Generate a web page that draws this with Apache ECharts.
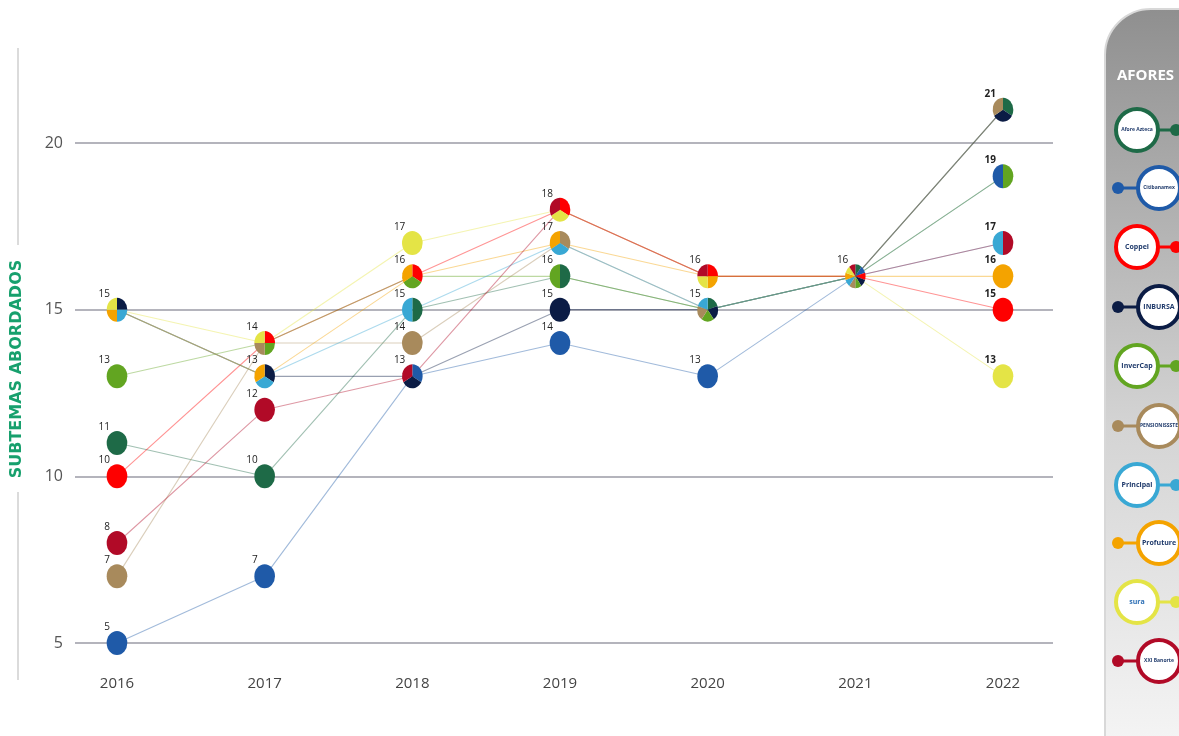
<!DOCTYPE html>
<html>
<head>
<meta charset="utf-8">
<script src="https://cdn.jsdelivr.net/npm/echarts@6/dist/echarts.min.js"></script>
<style>
html,body{margin:0;padding:0;background:#fff;}
#chart{width:1179px;height:736px;}
</style>
</head>
<body>
<div id="chart"></div>
<script>
const years = ['2016','2017','2018','2019','2020','2021','2022'];
const afores = ['Afore Azteca','Citibanamex','Coppel','Inbursa','Invercap','PensionISSSTE','Principal','Profuture','SURA','XXI Banorte'];
const aforeColors = ['#1e6a47','#1f5aa8','#fe0000','#0b1c45','#62a521','#a88a5c','#39a8d4','#f4a300','#e4e446','#b10a27'];
const logoText = ['Afore Azteca','Citibanamex','Coppel','INBURSA','InverCap','PENSIONISSSTE','Principal','Profuture','sura','XXI Banorte'];

const azteca        = [11, 10, 15, 16, 15, 16, 21];
const citibanamex   = [ 5,  7, 13, 14, 13, 16, 19];
const coppel        = [10, 14, 16, 18, 16, 16, 15];
const inbursa       = [15, 13, 13, 15, 15, 16, 21];
const invercap      = [13, 14, 16, 16, 15, 16, 19];
const pensionissste = [ 7, 14, 14, 17, 15, 16, 21];
const principal     = [15, 13, 15, 17, 15, 16, 17];
const profuture     = [15, 13, 16, 17, 16, 16, 16];
const sura          = [15, 14, 17, 18, 16, 16, 13];
const xxiBanorte    = [ 8, 12, 13, 18, 16, 16, 17];

const yTicks = [5, 10, 15, 20];

const seriesValues = [azteca, citibanamex, coppel, inbursa, invercap, pensionissste, principal, profuture, sura, xxiBanorte];

// group afores sharing the same value in the same year into one pie node
const nodeMap = {};
const nodes = [];
years.forEach((y, i) => {
  seriesValues.forEach((vals, a) => {
    const key = i + '_' + vals[i];
    if (!nodeMap[key]) { nodeMap[key] = {x: i, y: vals[i], members: []}; nodes.push(nodeMap[key]); }
    nodeMap[key].members.push(a);
  });
});

const R = 12;
function renderNode(params, api) {
  const nd = nodes[params.dataIndex];
  const c = api.coord([nd.x, nd.y]);
  const n = nd.members.length;
  const last = nd.x === years.length - 1;
  const start = (last && n === 2) ? Math.PI/2 : -Math.PI/2;
  const pies = nd.members.map((m, k) => {
    if (n === 1) return {type:'circle', shape:{cx:0, cy:0, r:R}, style:{fill: aforeColors[m]}};
    return {type:'sector', shape:{cx:0, cy:0, r0:0, r:R,
      startAngle: start + k*2*Math.PI/n, endAngle: start + (k+1)*2*Math.PI/n, clockwise:true},
      style:{fill: aforeColors[m]}};
  });
  return {type:'group', children:[
    {type:'group', x:c[0], y:c[1], scaleX:0.86, children: pies},
    {type:'text', x:c[0]-7, y:c[1]-16, style:{text:String(nd.y), align:'right', verticalAlign:'middle',
      fontSize:10, fontFamily:'Open Sans', fontWeight: last ? 'bold' : 'normal', fill:'#222'}}
  ]};
}

const lineSeries = afores.map((name, a) => ({
  name, type:'line', xAxisIndex:0, yAxisIndex:0, data: seriesValues[a],
  symbol:'none', clip:false, silent:true, z:2,
  lineStyle:{color: aforeColors[a], width:1.1, opacity:0.42}
}));

// legend panel graphics
const panelRows = [130, 188, 247, 307, 366, 426, 485, 543, 602, 661];
const panel = [];
panel.push({type:'rect', left:1104, top:8, shape:{x:0, y:0, width:120, height:760, r:[46,46,0,0]},
  style:{fill:{type:'linear', x:0, y:0, x2:0, y2:1, colorStops:[{offset:0,color:'#8f8f8f'},{offset:0.55,color:'#d4d4d4'},{offset:1,color:'#f7f7f7'}]},
  stroke:'#d8d8d8', lineWidth:2}, z:0});
panel.push({type:'text', left:1117, top:68, style:{text:'AFORES', fill:'#ffffff', fontSize:15, fontWeight:'bold', fontFamily:'Open Sans'}, z:1});
afores.forEach((name, a) => {
  const y = panelRows[a];
  const odd = a % 2 === 0;
  const ringX = odd ? 1137 : 1159;
  const dotX = odd ? 1176 : 1118;
  panel.push({type:'line', shape:{x1:ringX, y1:y, x2:dotX, y2:y}, style:{stroke:aforeColors[a], lineWidth:3}, z:1});
  panel.push({type:'circle', shape:{cx:dotX, cy:y, r:6}, style:{fill:aforeColors[a]}, z:2});
  panel.push({type:'circle', shape:{cx:ringX, cy:y, r:21}, style:{fill:'#ffffff', stroke:aforeColors[a], lineWidth:4}, z:3});
  panel.push({type:'text', x:ringX, y:y, style:{text:logoText[a], align:'center', verticalAlign:'middle',
    fontSize: logoText[a].length > 10 ? 5 : 7, fontWeight:'bold', fill: a===8 ? '#2d6fb5' : '#1f3a6b', fontFamily:'Open Sans'}, z:4});
});

const chart = echarts.init(document.getElementById('chart'), null, {renderer:'canvas'});
chart.setOption({
  animation:false,
  backgroundColor:'#ffffff',
  grid:[
    {left:117, right:176, top:143, bottom:93},
    {left:75, right:126, top:143, bottom:93}
  ],
  xAxis:[
    {type:'category', gridIndex:0, data:years, boundaryGap:false,
      axisLine:{show:false}, axisTick:{show:false}, splitLine:{show:false},
      axisLabel:{color:'#444', fontSize:15, margin:33, fontFamily:'Open Sans'}},
    {type:'value', gridIndex:1, show:false, min:0, max:1}
  ],
  yAxis:[
    {type:'value', gridIndex:0, min:yTicks[0], max:yTicks[yTicks.length-1], interval:5, show:false},
    {type:'value', gridIndex:1, min:yTicks[0], max:yTicks[yTicks.length-1], interval:5,
      axisLine:{show:false}, axisTick:{show:false},
      axisLabel:{color:'#555', fontSize:16, margin:12, fontFamily:'Open Sans'},
      splitLine:{lineStyle:{color:'#b4b4bc', width:2}}}
  ],
  series: lineSeries.concat([{
    type:'custom', xAxisIndex:0, yAxisIndex:0, clip:false, silent:true, z:5,
    data: nodes.map(n => [n.x, n.y]),
    renderItem: renderNode
  }]),
  graphic: [
    {type:'line', shape:{x1:18, y1:48, x2:18, y2:245}, style:{stroke:'#cfcfcf', lineWidth:1.5}},
    {type:'line', shape:{x1:18, y1:492, x2:18, y2:680}, style:{stroke:'#cfcfcf', lineWidth:1.5}},
    {type:'text', x:17, y:369, rotation:Math.PI/2, style:{text:'SUBTEMAS ABORDADOS', align:'center', verticalAlign:'middle',
      fill:'#17a06d', fontSize:16, fontWeight:'bold', fontFamily:'DejaVu Sans'}}
  ].concat(panel)
});
</script>
</body>
</html>
